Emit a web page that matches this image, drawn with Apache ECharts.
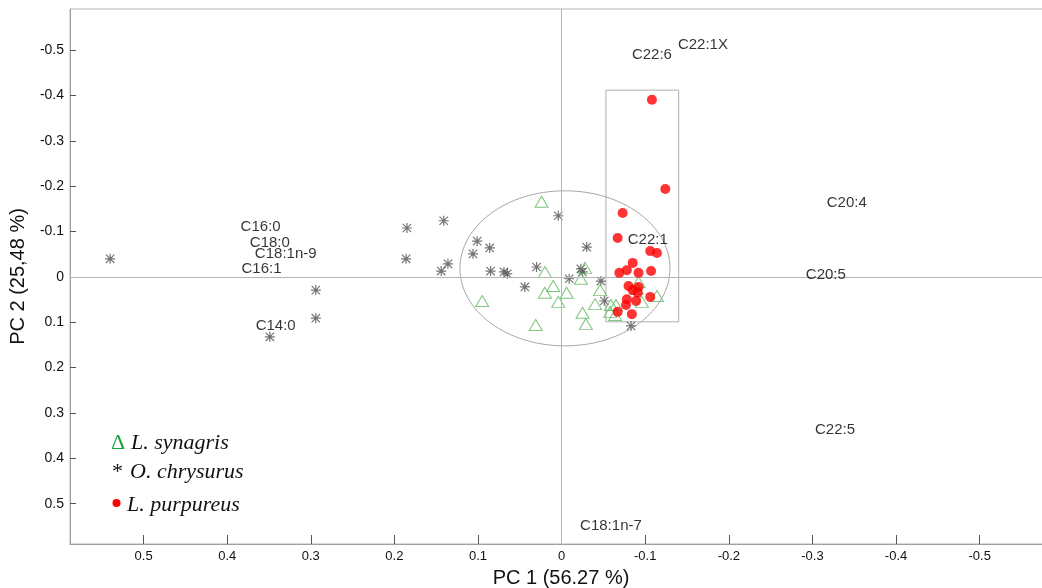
<!DOCTYPE html>
<html><head><meta charset="utf-8">
<script src="https://cdn.jsdelivr.net/npm/echarts@6/dist/echarts.min.js"></script>
<style>html,body{margin:0;padding:0;background:#fff}#c{width:1042px;height:588px}</style>
</head><body><div id="c"></div>
<script>
// PC1, PC2 scores
const synagrisPoints = [
  [0.024,-0.166],[0.020,-0.011],[0.010,0.020],[0.020,0.035],[0.095,0.053],[0.004,0.055],
  [-0.006,0.035],[0.031,0.106],[-0.028,-0.020],[-0.023,0.004],[-0.046,0.029],[-0.040,0.060],
  [-0.025,0.079],[-0.029,0.104],[-0.059,0.062],[-0.058,0.077],[-0.065,0.062],[-0.064,0.084],
  [-0.092,0.011],[-0.096,0.055],[-0.114,0.042],[-0.090,0.026]
];
const chrysurusPoints = [
  [0.540,-0.040],[0.294,0.029],[0.294,0.091],[0.349,0.132],[0.185,-0.108],[0.141,-0.124],
  [0.186,-0.040],[0.136,-0.029],[0.144,-0.013],[0.101,-0.079],[0.086,-0.064],[0.106,-0.051],
  [0.085,-0.013],[0.065,-0.007],[0.069,-0.011],[0.044,0.022],[0.030,-0.022],[0.004,-0.135],
  [-0.030,-0.066],[-0.009,0.004],[-0.025,-0.011],[-0.023,-0.018],[-0.047,0.009],[-0.051,0.053],
  [-0.083,0.108]
];
const purpureusPoints = [
  [-0.108,-0.391],[-0.124,-0.194],[-0.073,-0.141],[-0.067,-0.086],[-0.106,-0.057],[-0.114,-0.053],
  [-0.085,-0.031],[-0.078,-0.015],[-0.069,-0.009],[-0.092,-0.009],[-0.107,-0.013],[-0.080,0.020],
  [-0.092,0.022],[-0.085,0.029],[-0.091,0.035],[-0.106,0.044],[-0.078,0.049],[-0.089,0.053],
  [-0.077,0.062],[-0.067,0.077],[-0.084,0.082]
];
// variable loadings (fatty acids)
const loadingNames = ['C22:6','C22:1X','C22:1','C20:4','C20:5','C22:5','C18:1n-7','C16:0','C18:0','C18:1n-9','C16:1','C14:0'];
const loadingPC1 = [-0.108,-0.169,-0.103,-0.341,-0.316,-0.327,-0.059,0.360,0.349,0.330,0.359,0.342];
const loadingPC2 = [-0.490,-0.512,-0.082,-0.163,-0.004,0.338,0.550,-0.110,-0.075,-0.051,-0.018,0.108];
// group outlines
const ellipseShape = [-0.004,-0.019,0.1256,0.171]; // cx, cy, rx, ry
const boxShape = [-0.053,-0.412,-0.140,0.099];    // x1, y1, x2, y2
// axes
const xTicks = [0.5,0.4,0.3,0.2,0.1,0,-0.1,-0.2,-0.3,-0.4,-0.5];
const yTicks = [-0.5,-0.4,-0.3,-0.2,-0.1,0,0.1,0.2,0.3,0.4,0.5];
const xName = 'PC 1 (56.27 %)';
const yName = 'PC 2 (25,48 %)';
const legendNames = ['L. synagris','O. chrysurus','L. purpureus'];

const FONT = '"Liberation Sans", Arial, sans-serif';
const SERIF = '"Liberation Serif", "Times New Roman", serif';
const asterisk = 'path://M4.4,0H5.6V10H4.4Z M0,4.4H10V5.6H0Z M1.2,0.4L9.6,8.8L8.8,9.6L0.4,1.2Z M8.8,0.4L9.6,1.2L1.2,9.6L0.4,8.8Z';

const chart = echarts.init(document.getElementById('c'), null, {renderer:'canvas'});
chart.setOption({
  animation:false,
  backgroundColor:'#fff',
  grid:{left:70, right:-10, top:9, bottom:44, show:true, borderColor:'#b4b4b4', borderWidth:1,
    containLabel:false, outerBoundsMode:'none'},
  xAxis:{
    type:'value', min:-0.5865, max:0.588, inverse:true,
    name:xName, nameLocation:'middle', nameGap:24,
    nameTextStyle:{fontFamily:FONT, fontSize:20, color:'#111'},
    axisLine:{show:true, onZero:false, lineStyle:{color:'#a0a0a0'}},
    axisTick:{show:true, inside:true, length:9, customValues:xTicks, lineStyle:{color:'#555'}},
    axisLabel:{customValues:xTicks, fontFamily:FONT, fontSize:13, color:'#111', margin:6,
      formatter:v=>String(Math.round(v*10)/10)},
    splitLine:{show:false}
  },
  yAxis:{
    type:'value', min:-0.591, max:0.589, inverse:true,
    name:yName, nameLocation:'middle', nameGap:32, nameRotate:90,
    nameTextStyle:{fontFamily:FONT, fontSize:20, color:'#111'},
    axisLine:{show:true, onZero:false, lineStyle:{color:'#a0a0a0'}},
    axisTick:{show:true, inside:true, length:6, customValues:yTicks, lineStyle:{color:'#555'}},
    axisLabel:{customValues:yTicks, fontFamily:FONT, fontSize:14, color:'#111', margin:6,
      formatter:v=>String(Math.round(v*10)/10)},
    splitLine:{show:false}
  },
  series:[
    {
      type:'custom', z:1, silent:true,
      encode:{x:0, y:1},
      data:[ellipseShape],
      renderItem:(params, api)=>{
        const c = api.coord([api.value(0), api.value(1)]);
        const e = api.coord([api.value(0)+api.value(2), api.value(1)+api.value(3)]);
        return {type:'ellipse', shape:{cx:c[0], cy:c[1], rx:Math.abs(e[0]-c[0]), ry:Math.abs(e[1]-c[1])},
          style:{fill:'none', stroke:'#a8a8a8', lineWidth:1}};
      },
      markLine:{silent:true, symbol:'none', label:{show:false},
        lineStyle:{color:'#b4b4b4', type:'solid', width:1},
        data:[{xAxis:0},{yAxis:0}]}
    },
    {
      type:'custom', z:1, silent:true,
      encode:{x:[0,2], y:[1,3]},
      data:[boxShape],
      renderItem:(params, api)=>{
        const a = api.coord([api.value(0), api.value(1)]);
        const b = api.coord([api.value(2), api.value(3)]);
        return {type:'rect', shape:{x:Math.min(a[0],b[0]), y:Math.min(a[1],b[1]),
          width:Math.abs(b[0]-a[0]), height:Math.abs(b[1]-a[1])},
          style:{fill:'none', stroke:'#b0b0b0', lineWidth:1}};
      }
    },
    {
      name:legendNames[1], type:'scatter', z:3, data:chrysurusPoints,
      symbol:asterisk, symbolSize:10, itemStyle:{color:'#505050'}
    },
    {
      name:legendNames[0], type:'scatter', z:4, data:synagrisPoints,
      symbol:'triangle', symbolSize:[13,11],
      itemStyle:{color:'rgba(0,0,0,0)', borderColor:'#5cb85c', borderWidth:1}
    },
    {
      name:legendNames[2], type:'scatter', z:5, data:purpureusPoints,
      symbol:'circle', symbolSize:10, itemStyle:{color:'#ff0000'}
    },
    {
      type:'scatter', z:6, silent:true, symbolSize:0,
      data:loadingNames.map((n,i)=>[loadingPC1[i], loadingPC2[i], n]),
      label:{show:true, position:'inside', formatter:p=>p.data[2],
        fontFamily:FONT, fontSize:15, color:'#000'}
    }
  ],
  graphic:[
    {type:'text', left:111, top:432, style:{text:'Δ', font:'22px '+SERIF, fill:'#1aa33f'}},
    {type:'text', left:131, top:432, style:{text:legendNames[0], font:'italic 22px '+SERIF, fill:'#111'}},
    {type:'text', left:112, top:461, style:{text:'*', font:'22px '+SERIF, fill:'#111'}},
    {type:'text', left:130, top:461, style:{text:legendNames[1], font:'italic 22px '+SERIF, fill:'#111'}},
    {type:'circle', shape:{cx:116.5, cy:503, r:4}, style:{fill:'#ff0000'}},
    {type:'text', left:127, top:494, style:{text:legendNames[2], font:'italic 22px '+SERIF, fill:'#111'}}
  ]
});
</script>
</body></html>
